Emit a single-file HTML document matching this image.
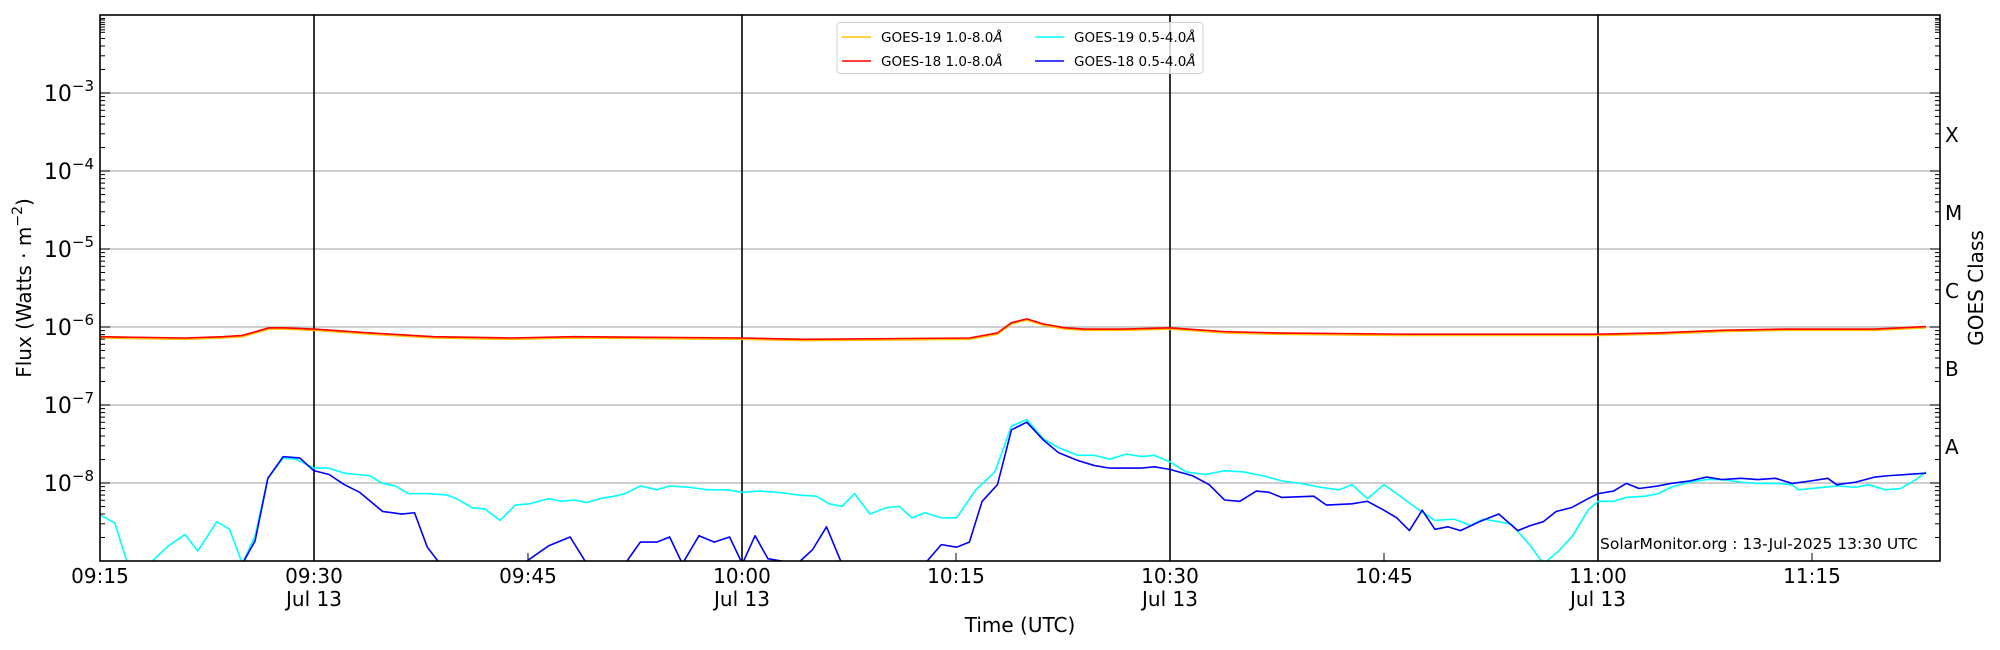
<!DOCTYPE html>
<html><head><meta charset="utf-8"><style>
html,body{margin:0;padding:0;background:#fff;}
svg{display:block;font-family:"DejaVu Sans","Liberation Sans",sans-serif;}
</style></head><body>
<svg width="2000" height="650" viewBox="0 0 2000 650" xmlns="http://www.w3.org/2000/svg">
<defs>
<clipPath id="c"><rect x="100" y="15" width="1840" height="546"/></clipPath>
<g id="mnL">
<line x1="100" x2="105" y1="-23.5" y2="-23.5"/><line x1="100" x2="105" y1="-37.2" y2="-37.2"/><line x1="100" x2="105" y1="-47" y2="-47"/><line x1="100" x2="105" y1="-54.5" y2="-54.5"/><line x1="100" x2="105" y1="-60.7" y2="-60.7"/><line x1="100" x2="105" y1="-65.9" y2="-65.9"/><line x1="100" x2="105" y1="-70.4" y2="-70.4"/><line x1="100" x2="105" y1="-74.4" y2="-74.4"/>
<line x1="1940" x2="1935" y1="-23.5" y2="-23.5"/><line x1="1940" x2="1935" y1="-37.2" y2="-37.2"/><line x1="1940" x2="1935" y1="-47" y2="-47"/><line x1="1940" x2="1935" y1="-54.5" y2="-54.5"/><line x1="1940" x2="1935" y1="-60.7" y2="-60.7"/><line x1="1940" x2="1935" y1="-65.9" y2="-65.9"/><line x1="1940" x2="1935" y1="-70.4" y2="-70.4"/><line x1="1940" x2="1935" y1="-74.4" y2="-74.4"/>
<line x1="100" x2="110" y1="0" y2="0"/><line x1="1940" x2="1930" y1="0" y2="0"/>
</g>
</defs>
<rect width="2000" height="650" fill="#fff"/>
<g stroke="#b0b0b0" stroke-width="1.3">
<line x1="100" x2="1940" y1="93" y2="93"/><line x1="100" x2="1940" y1="171" y2="171"/><line x1="100" x2="1940" y1="249" y2="249"/><line x1="100" x2="1940" y1="327" y2="327"/><line x1="100" x2="1940" y1="405" y2="405"/><line x1="100" x2="1940" y1="483" y2="483"/>
</g>
<g stroke="#000" stroke-width="1.6">
<line x1="314" x2="314" y1="15" y2="561"/><line x1="742" x2="742" y1="15" y2="561"/><line x1="1170" x2="1170" y1="15" y2="561"/><line x1="1598" x2="1598" y1="15" y2="561"/>
</g>
<g clip-path="url(#c)" fill="none" stroke-width="1.6" stroke-linejoin="round">
<g transform="scale(1.2755)">
<polyline vector-effect="non-scaling-stroke" stroke="#ffc000" points="79,265 145,266 175,265 190,264 211,258 222,258 246,259 290,262 340,265 400,266 450,265 582,266 630,267 760,266 782,262 793,254 805,251 818,255 835,258 850,259 880,259 917,258 960,261 1000,262 1100,263 1253,263 1300,262 1350,260 1400,259 1470,259 1510,257"/>
<polyline vector-effect="non-scaling-stroke" stroke="#ff0000" points="79,264 145,265 175,264 190,263 211,257 222,257 246,258 290,261 340,264 400,265 450,264 582,265 630,266 760,265 782,261 793,253 805,250 818,254 835,257 850,258 880,258 917,257 960,260 1000,261 1100,262 1253,262 1300,261 1350,259 1400,258 1470,258 1510,256"/>
<polyline vector-effect="non-scaling-stroke" stroke="#00ffff" points="79,404 90,410 100,442 117,442 132,428 145,419 155,432 170,409 180,415 190,442 200,420 210,375 222,359 232,360 246,367 258,367 270,371 280,372 290,373 300,379 310,381 320,387 335,387 350,388 358,391 370,398 380,399 392,408 404,396 415,395 430,391 440,393 450,392 460,394 470,391 482,389 490,387 502,381 515,384 525,381 540,382 555,384 570,384 582,386 595,385 610,386 625,388 640,389 650,395 660,397 670,387 682,403 695,398 705,397 715,406 725,402 738,406 750,406 765,384 780,370 793,334 805,329 818,344 830,351 845,357 858,357 870,360 883,356 895,358 905,357 917,362 930,370 945,372 960,369 975,370 990,373 1005,377 1020,379 1035,382 1050,384 1060,380 1072,391 1085,380 1095,387 1110,398 1125,408 1140,407 1153,412 1163,407 1175,409 1185,411 1200,428 1210,442 1222,432 1233,420 1245,400 1253,393 1265,393 1275,390 1290,389 1300,387 1310,382 1325,378 1338,376 1350,376 1365,378 1378,379 1392,379 1405,380 1410,384 1420,383 1440,381 1455,382 1465,380 1478,384 1490,383 1502,376 1510,370"/>
<polyline vector-effect="non-scaling-stroke" stroke="#0000ff" points="79,442 190,442 200,424 210,375 222,358 235,359 246,369 258,372 270,380 282,386 300,401 315,403 325,402 335,429 345,442 410,442 430,428 447,421 460,442 490,442 502,425 515,425 525,421 535,442 548,420 560,425 572,421 582,442 592,420 602,438 625,442 637,431 648,413 660,442 725,442 738,427 750,429 760,425 770,393 782,380 793,337 805,331 818,345 830,355 845,361 858,365 870,367 883,367 895,367 905,366 917,368 935,373 948,380 960,392 972,393 985,385 995,386 1005,390 1030,389 1040,396 1060,395 1072,393 1085,400 1095,406 1105,416 1115,400 1125,415 1135,413 1145,416 1160,409 1175,403 1190,416 1200,412 1210,409 1220,401 1232,398 1245,391 1253,387 1265,385 1275,379 1285,383 1300,381 1310,379 1325,377 1338,374 1350,376 1365,375 1378,376 1392,375 1405,379 1420,377 1433,375 1440,380 1455,378 1470,374 1480,373 1510,371"/>
</g>
</g>
<g stroke="#000" stroke-width="1">
<use href="#mnL" transform="translate(0,561)"/><use href="#mnL" transform="translate(0,483)"/><use href="#mnL" transform="translate(0,405)"/><use href="#mnL" transform="translate(0,327)"/><use href="#mnL" transform="translate(0,249)"/><use href="#mnL" transform="translate(0,171)"/><use href="#mnL" transform="translate(0,93)"/>
<line x1="100" x2="105" y1="38.5" y2="38.5"/><line x1="100" x2="105" y1="29.8" y2="29.8"/><line x1="100" x2="105" y1="24.6" y2="24.6"/><line x1="100" x2="105" y1="20" y2="20"/>
<line x1="1940" x2="1935" y1="38.5" y2="38.5"/><line x1="1940" x2="1935" y1="29.8" y2="29.8"/><line x1="1940" x2="1935" y1="24.6" y2="24.6"/><line x1="1940" x2="1935" y1="20" y2="20"/>
<line x1="528" x2="528" y1="561" y2="553"/><line x1="956" x2="956" y1="561" y2="553"/><line x1="1384" x2="1384" y1="561" y2="553"/><line x1="1812" x2="1812" y1="561" y2="553"/>
</g>
<rect x="100" y="15" width="1840" height="546" fill="none" stroke="#000" stroke-width="1.6"/>
<g font-size="22" fill="#000" text-anchor="end">
<text x="94" y="101">10<tspan font-size="15" dy="-10">−3</tspan></text>
<text x="94" y="179">10<tspan font-size="15" dy="-10">−4</tspan></text>
<text x="94" y="257">10<tspan font-size="15" dy="-10">−5</tspan></text>
<text x="94" y="335">10<tspan font-size="15" dy="-10">−6</tspan></text>
<text x="94" y="413">10<tspan font-size="15" dy="-10">−7</tspan></text>
<text x="94" y="491">10<tspan font-size="15" dy="-10">−8</tspan></text>
</g>
<g font-size="20" fill="#000" text-anchor="middle">
<text x="100" y="583">09:15</text>
<text x="314" y="583">09:30</text><text x="314" y="606">Jul 13</text>
<text x="528" y="583">09:45</text>
<text x="742" y="583">10:00</text><text x="742" y="606">Jul 13</text>
<text x="956" y="583">10:15</text>
<text x="1170" y="583">10:30</text><text x="1170" y="606">Jul 13</text>
<text x="1384" y="583">10:45</text>
<text x="1598" y="583">11:00</text><text x="1598" y="606">Jul 13</text>
<text x="1812" y="583">11:15</text>
<text x="1020" y="632">Time (UTC)</text>
<text transform="translate(31,288) rotate(-90)">Flux (Watts · m<tspan font-size="14" dy="-9">−2</tspan><tspan dy="9">)</tspan></text>
<text transform="translate(1983,288) rotate(-90)">GOES Class</text>
</g>
<g font-size="20" fill="#000">
<text x="1945" y="142">X</text><text x="1945" y="220">M</text><text x="1945" y="298">C</text><text x="1945" y="376">B</text><text x="1945" y="454">A</text>
</g>
<text x="1600" y="549" font-size="15.5" fill="#000">SolarMonitor.org : 13-Jul-2025 13:30 UTC</text>
<rect x="837" y="22.5" width="366" height="51" rx="3" fill="#fff" fill-opacity="0.8" stroke="#d0d0d0" stroke-width="1"/>
<g stroke-width="1.6">
<line x1="842" x2="871" y1="37" y2="37" stroke="#ffc000"/>
<line x1="842" x2="871" y1="61" y2="61" stroke="#ff0000"/>
<line x1="1035" x2="1064" y1="37" y2="37" stroke="#00ffff"/>
<line x1="1035" x2="1064" y1="61" y2="61" stroke="#0000ff"/>
</g>
<g font-size="13.5" fill="#000">
<text x="881" y="42">GOES-19 1.0-8.0<tspan font-style="italic">Å</tspan></text>
<text x="881" y="66">GOES-18 1.0-8.0<tspan font-style="italic">Å</tspan></text>
<text x="1074" y="42">GOES-19 0.5-4.0<tspan font-style="italic">Å</tspan></text>
<text x="1074" y="66">GOES-18 0.5-4.0<tspan font-style="italic">Å</tspan></text>
</g>
</svg>
</body></html>
